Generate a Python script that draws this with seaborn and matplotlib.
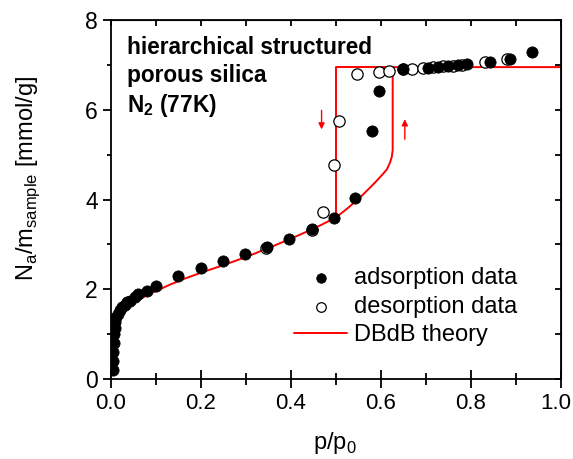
import numpy as np
import pandas as pd
import seaborn as sns
import matplotlib
matplotlib.use("Agg")
import matplotlib.pyplot as plt
from matplotlib.ticker import MultipleLocator
from matplotlib.transforms import ScaledTranslation

sns.set_style("ticks")
plt.rcParams['font.family'] = ['Liberation Sans', 'DejaVu Sans']
plt.rcParams['mathtext.fontset'] = 'custom'
plt.rcParams['mathtext.rm'] = 'Liberation Sans'
plt.rcParams['mathtext.bf'] = 'Liberation Sans:bold'
# plain black text and frame, like the original
for key in ['text.color', 'axes.labelcolor', 'xtick.color', 'ytick.color', 'axes.edgecolor']:
    plt.rcParams[key] = 'black'

# adsorption data (filled)
ads_p = [0.004, 0.005, 0.005, 0.006, 0.007, 0.008, 0.010, 0.012, 0.015, 0.020, 0.025,
         0.031, 0.036, 0.042, 0.053, 0.061, 0.079, 0.099, 0.150, 0.199, 0.248, 0.298,
         0.347, 0.396, 0.446, 0.496, 0.542, 0.581, 0.596, 0.650, 0.705, 0.727, 0.749,
         0.771, 0.791, 0.842, 0.887, 0.935]
ads_n = [0.20, 0.40, 0.60, 0.80, 1.00, 1.15, 1.28, 1.38, 1.46, 1.53, 1.60,
         1.66, 1.71, 1.75, 1.84, 1.89, 1.96, 2.07, 2.29, 2.47, 2.63, 2.79,
         2.95, 3.12, 3.35, 3.58, 4.04, 5.52, 6.41, 6.90, 6.94, 6.96, 6.98,
         6.99, 7.01, 7.06, 7.13, 7.28]

# desorption data (open)
des_p = [0.344, 0.446, 0.472, 0.496, 0.507, 0.546, 0.596, 0.618, 0.650, 0.670,
         0.693, 0.715, 0.738, 0.760, 0.780, 0.831, 0.881]
des_n = [2.93, 3.33, 3.72, 4.78, 5.75, 6.80, 6.84, 6.86, 6.90, 6.91,
         6.92, 6.95, 6.97, 6.98, 7.00, 7.06, 7.12]

# DBdB theory, adsorption branch
th_ads_p = [0.0, 0.001, 0.002, 0.004, 0.006, 0.009, 0.013, 0.020, 0.030, 0.046,
            0.060, 0.083, 0.100, 0.130, 0.164, 0.200, 0.250, 0.300, 0.350, 0.400,
            0.450, 0.500, 0.525, 0.553, 0.583, 0.600, 0.613, 0.620, 0.624, 0.626,
            0.626, 1.0]
th_ads_n = [0.0, 0.35, 0.58, 0.82, 0.96, 1.07, 1.20, 1.37, 1.50, 1.66,
            1.75, 1.89, 1.96, 2.10, 2.24, 2.37, 2.54, 2.72, 2.92, 3.13,
            3.35, 3.60, 3.80, 4.04, 4.34, 4.52, 4.67, 4.82, 4.95, 5.10,
            6.95, 6.95]
# DBdB theory, desorption branch
th_des_p = [0.626, 0.500, 0.500]
th_des_n = [6.95, 6.95, 3.60]

fig = plt.figure(figsize=(5.73, 4.59), dpi=100)
ax = fig.add_axes([0.1937, 0.174, 0.7853, 0.7825])

red = '#ff0000'
sns.lineplot(x=th_ads_p, y=th_ads_n, sort=False, estimator=None, color=red,
             linewidth=1.4, ax=ax, label='DBdB theory', zorder=2)
sns.lineplot(x=th_des_p, y=th_des_n, sort=False, estimator=None, color=red,
             linewidth=1.4, ax=ax, zorder=2)
sns.scatterplot(x=des_p, y=des_n, marker='o', s=66, facecolor='white',
                edgecolor='black', linewidth=0.9, ax=ax, label='desorption data', zorder=3)
sns.scatterplot(x=ads_p, y=ads_n, marker='o', s=66, color='black',
                edgecolor='black', linewidth=0.5, ax=ax, label='adsorption data', zorder=4)

# arrows
ax.annotate('', xy=(0.468, 5.50), xytext=(0.468, 6.05),
            arrowprops=dict(arrowstyle='-|>', color=red, lw=1.0, mutation_scale=9))
ax.annotate('', xy=(0.653, 5.85), xytext=(0.653, 5.28),
            arrowprops=dict(arrowstyle='-|>', color=red, lw=1.0, mutation_scale=9))

ax.set_xlim(0, 1.0)
ax.set_ylim(0, 8)
ax.xaxis.set_major_locator(MultipleLocator(0.2))
ax.xaxis.set_minor_locator(MultipleLocator(0.1))
ax.yaxis.set_major_locator(MultipleLocator(2))
ax.yaxis.set_minor_locator(MultipleLocator(1))
ax.xaxis.set_major_formatter(plt.FormatStrFormatter('%.1f'))
ax.tick_params(axis='x', which='major', direction='inout', length=13, width=1.3,
               labelsize=16, pad=3.5)
ax.tick_params(axis='x', which='minor', direction='inout', length=8, width=1.3)
ax.tick_params(axis='y', which='major', direction='out', length=6, width=1.3,
               labelsize=16.5, pad=3.5)
ax.tick_params(axis='y', which='minor', direction='out', length=3, width=1.3)
for s in ax.spines.values():
    s.set_linewidth(1.3)
    s.set_color('black')
    s.set_visible(True)

top = ax.secondary_xaxis('top')
top.xaxis.set_major_locator(MultipleLocator(0.2))
top.xaxis.set_minor_locator(MultipleLocator(0.1))
top.tick_params(which='both', direction='in', length=4.3, width=1.3, labeltop=False)
right = ax.secondary_yaxis('right')
right.yaxis.set_major_locator(MultipleLocator(2))
right.yaxis.set_minor_locator(MultipleLocator(1))
right.tick_params(which='both', direction='in', length=4.3, width=1.3, labelright=False)

ax.set_xlabel(r'p/p$_\mathregular{0}$', fontsize=17)
ax.xaxis.set_label_coords(0.498, -0.142)
ax.set_ylabel(r'N$_\mathregular{a}$/m$_\mathregular{sample}$ [mmol/g]', fontsize=17)
ax.yaxis.set_label_coords(-0.153, 0.56)

ax.text(0.036, 0.955, 'hierarchical structured\nporous silica\nN$_\\mathbf{2}$ (77K)',
        transform=ax.transAxes, fontsize=16.3, fontweight='bold', va='top',
        ha='left', linespacing=1.25, color='black')

handles, labels = ax.get_legend_handles_labels()
order = [labels.index('adsorption data'), labels.index('desorption data'),
         labels.index('DBdB theory')]
ax.legend([handles[i] for i in order], [labels[i] for i in order], loc='upper left',
          bbox_to_anchor=(0.407, 0.311), frameon=False, fontsize=17, handlelength=2.25,
          labelspacing=0.27, handletextpad=0.3, borderpad=0, borderaxespad=0,
          markerscale=0.85)

# nudge the "1.0" label a little left so it stays inside the canvas
fig.canvas.draw()
shift = ScaledTranslation(-4 / 72, 0, fig.dpi_scale_trans)
for tick in ax.xaxis.get_major_ticks():
    if tick.label1.get_text() == '1.0':
        tick.label1.set_transform(tick.label1.get_transform() + shift)

fig.savefig('out.png', dpi=100)
